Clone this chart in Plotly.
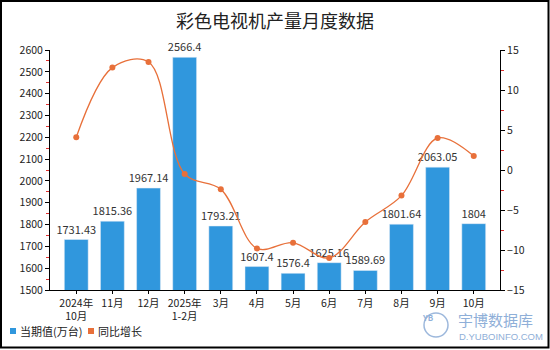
import plotly.graph_objects as go

months = ["2024年<br>10月", "11月", "12月", "2025年<br>1-2月", "3月", "4月",
          "5月", "6月", "7月", "8月", "9月", "10月"]
output = [1731.43, 1815.36, 1967.14, 2566.4, 1793.21, 1607.4,
          1576.4, 1625.16, 1589.69, 1801.64, 2063.05, 1804]
yoy = [4.1, 12.8, 13.5, -0.5, -2.4, -9.8, -9.1, -11.0, -6.5, -3.2, 4.0, 1.75]

BAR = "#3097DD"
LINE = "#E8703A"
WM = "#8FAFD8"
FONT = "Noto Sans CJK SC"

# plot area in pixels: x 50..500, y 50..290
L, R, T, B = 50, 500, 50, 290


def px(x):
    return (x - L) / (R - L)


def py(y):
    return (B - y) / (B - T)


fig = go.Figure()
fig.add_trace(go.Bar(
    x=months, y=output, name="当期值(万台)",
    marker_color=BAR, width=0.66,
    text=[f"{v:g}" for v in output], textposition="outside",
    constraintext="none",
    textfont=dict(size=11, color="#333333"), cliponaxis=False,
))
fig.add_trace(go.Scatter(
    x=months, y=yoy, name="同比增长", yaxis="y2",
    mode="lines+markers", line=dict(color=LINE, width=1.3, shape="spline", smoothing=1.0),
    marker=dict(color=LINE, size=6),
))

fig.update_layout(
    width=550, height=350,
    margin=dict(l=L, r=550 - R, t=T, b=350 - B),
    paper_bgcolor="white", plot_bgcolor="white",
    font=dict(family=FONT, size=10, color="#222222"),
    title=dict(text="彩色电视机产量月度数据", x=0.5, xanchor="center", y=1 - 22 / 350,
               yanchor="middle", font=dict(size=18, color="#222222")),
    showlegend=False,
    bargap=0.34,
    xaxis=dict(showline=True, linecolor="black", linewidth=1, ticks="outside",
               ticklen=3, tickcolor="black", showgrid=False, tickangle=0,
               tickfont=dict(size=10.5), automargin=False),
    yaxis=dict(range=[1500, 2600], dtick=100, showline=True, linecolor="black",
               linewidth=1, ticks="outside", ticklen=4, tickcolor="black",
               showgrid=False, zeroline=False, tickfont=dict(size=10.5), automargin=False,
               minor=dict(dtick=50, ticks="outside", ticklen=3, tickcolor="#E03030")),
    yaxis2=dict(range=[-15, 15], dtick=5, overlaying="y", side="right",
                showline=True, linecolor="black", linewidth=1, ticks="outside",
                ticklen=4, tickcolor="black", showgrid=False, zeroline=False,
                tickfont=dict(size=10.5), automargin=False,
                minor=dict(dtick=2.5, ticks="outside", ticklen=3, tickcolor="#E03030")),
)

# outer frame around the whole chart
fig.add_shape(type="rect", xref="paper", yref="paper",
              x0=px(1), x1=px(548.5), y0=py(347.5), y1=py(1),
              line=dict(color="black", width=2), fillcolor="rgba(0,0,0,0)")

# legend: colour squares with labels
legend_items = [(10, BAR, "当期值(万台)"), (88, LINE, "同比增长")]
for x0, color, label in legend_items:
    fig.add_shape(type="rect", xref="paper", yref="paper",
                  x0=px(x0), x1=px(x0 + 6), y0=py(334), y1=py(328),
                  line=dict(width=0), fillcolor=color)
    fig.add_annotation(text=label, xref="paper", yref="paper",
                       x=px(x0 + 8), y=py(331), xanchor="left", yanchor="middle",
                       showarrow=False, font=dict(size=11, color="#222222"))

# watermark
fig.add_shape(type="circle", xref="paper", yref="paper",
              x0=px(424), x1=px(448), y0=py(337), y1=py(313),
              line=dict(color="#9DB8DC", width=1.5), fillcolor="rgba(0,0,0,0)")
fig.add_annotation(text="<b>YB</b>", xref="paper", yref="paper",
                   x=px(436), y=py(325), showarrow=False,
                   font=dict(size=8, color=WM))
fig.add_annotation(text="宇博数据库", xref="paper", yref="paper",
                   x=px(456), y=py(319), xanchor="left", yanchor="middle",
                   showarrow=False, font=dict(size=15, color=WM, family=FONT))
fig.add_annotation(text="D.YUBOINFO.COM", xref="paper", yref="paper",
                   x=px(457), y=py(336), xanchor="left", yanchor="middle",
                   showarrow=False, font=dict(size=9.5, color=WM, family="Liberation Sans"))

fig.write_html("out.html")
